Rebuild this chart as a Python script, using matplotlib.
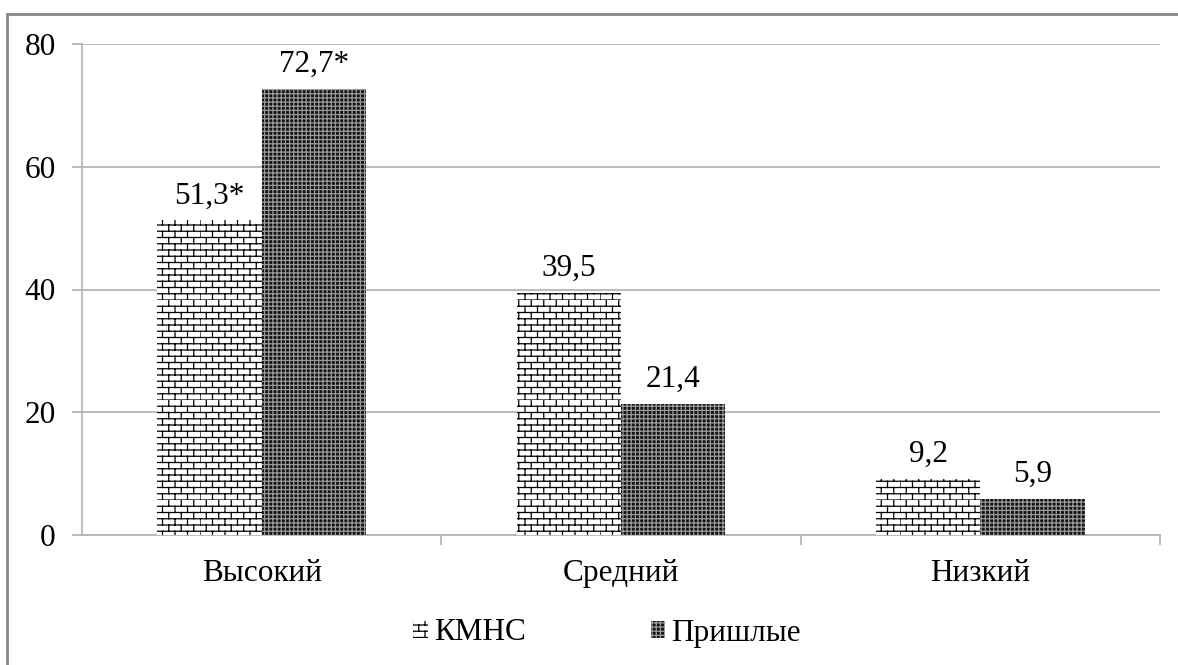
import numpy as np
import matplotlib
matplotlib.use("Agg")
import matplotlib.pyplot as plt
from matplotlib import hatch as mhatch
from matplotlib.path import Path
from matplotlib.patches import Rectangle
import warnings

warnings.filterwarnings("ignore")

categories = ["Высокий", "Средний", "Низкий"]
kmns = [51.3, 39.5, 9.2]
prishlye = [72.7, 21.4, 5.9]
kmns_labels = ["51,3*", "39,5", "9,2"]
prishlye_labels = ["72,7*", "21,4", "5,9"]
series_names = ["КМНС", "Пришлые"]
yticks = [0, 20, 40, 60, 80]

fs = 22.5


# =========================================================
# BRICK HATCH (custom pattern, char 'b')
# =========================================================

class BrickHatch(mhatch.HatchPatternBase):
    def __init__(self, hatch, density):
        self.num_rows = 16 if "b" in hatch else 0
        self.num_cols = 8
        self.num_vertices = self.num_rows * (2 + 2 * self.num_cols)

    def set_vertices_and_codes(self, vertices, codes):
        verts = []
        for i in range(self.num_rows):
            y0 = i / self.num_rows
            y1 = (i + 1) / self.num_rows
            verts.append((0.0, y0))
            verts.append((1.0, y0))
            shift = 0.5 * (i % 2)
            for j in range(self.num_cols):
                x = (j + shift) / self.num_cols
                verts.append((x, y0))
                verts.append((x, y1))
        vertices[:] = np.array(verts)
        codes[0::2] = Path.MOVETO
        codes[1::2] = Path.LINETO


mhatch._hatch_types.append(BrickHatch)

plt.rcParams['font.family'] = ['Liberation Serif', 'DejaVu Serif']
plt.rcParams['hatch.linewidth'] = 0.9

fig = plt.figure(figsize=(11.78, 6.65), dpi=100)
ax = fig.add_axes([82 / 1178, 1 - 535 / 665, (1160 - 82) / 1178, (535 - 44) / 665])

x = np.arange(len(categories))
w = 0.29

b1 = ax.bar(x - w / 2, kmns, w, facecolor="white", edgecolor="black",
            linewidth=0, hatch="b", label=series_names[0], zorder=3)
b2 = ax.bar(x + w / 2, prishlye, w, facecolor="#151515", edgecolor="#9a9a9a",
            linewidth=0, hatch="++++", label=series_names[1], zorder=3)

ax.bar_label(b1, labels=kmns_labels, padding=7, fontsize=fs)
ax.bar_label(b2, labels=prishlye_labels, padding=7, fontsize=fs)

ax.set_xlim(-0.5, 2.5)
ax.set_ylim(0, 80)
ax.set_yticks(yticks)
ax.set_xticks(x)
ax.set_xticklabels(categories)
ax.set_xticks([0.5, 1.5, 2.5], minor=True)

ax.tick_params(axis="y", labelsize=fs, length=7, width=1.2,
               color="#b0b0b0", pad=12)
ax.tick_params(axis="x", which="major", labelsize=fs, length=0, pad=17)
ax.tick_params(axis="x", which="minor", length=7, width=1.2, color="#b0b0b0")

ax.grid(axis="y", color="#b0b0b0", linewidth=1.2, zorder=0)
ax.set_axisbelow(True)
for s in ["top", "right"]:
    ax.spines[s].set_visible(False)
for s in ["left", "bottom"]:
    ax.spines[s].set_color("#b0b0b0")
    ax.spines[s].set_linewidth(1.2)

ax.legend(loc="center", bbox_to_anchor=(607 / 1178, 1 - 633 / 665),
          bbox_transform=fig.transFigure, ncol=2, frameon=False,
          fontsize=fs, handlelength=0.45, handleheight=0.45,
          handletextpad=0.2, columnspacing=4.0)

# outer frame
fig.add_artist(Rectangle((7 / 1178, -0.1), 1.2, 1 - 14 / 665 + 0.1,
                         transform=fig.transFigure, fill=False,
                         edgecolor="#888888", linewidth=2, clip_on=False))

fig.savefig("out.png", dpi=100)
